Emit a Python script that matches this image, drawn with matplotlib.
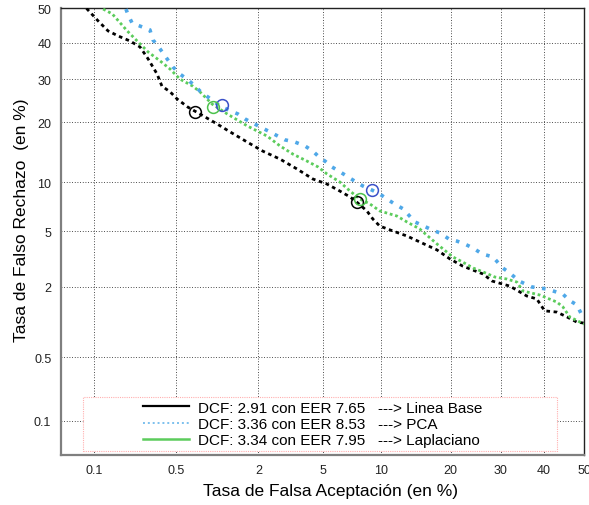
import numpy as np
import matplotlib
matplotlib.use('Agg')
import matplotlib.pyplot as plt
from matplotlib.lines import Line2D
from matplotlib.patches import Rectangle
from statistics import NormalDist

# --- data (percent) ---
base_far = [0.085, 0.109, 0.134, 0.166, 0.209, 0.255, 0.298, 0.354, 0.388, 0.452,
            0.513, 0.624, 0.813, 1.03, 1.28, 1.68, 2.14, 2.76, 3.51, 4.36,
            5.24, 6.18, 7.0, 7.58, 8.54, 9.15, 9.88, 11.4, 13.2, 15.0,
            17.7, 19.9, 22.2, 26.2, 28.1, 32.0, 35.9, 38.3, 40.2, 43.2,
            45.7, 48.2, 50.0]
base_frr = [50.0, 46.3, 43.4, 41.9, 40.5, 38.8, 35.5, 31.4, 28.3, 26.9,
            25.2, 23.3, 21.4, 19.7, 18.1, 16.2, 14.6, 13.3, 11.8, 10.4,
            9.75, 8.88, 8.2, 7.65, 6.75, 6.0, 5.41, 5.02, 4.65, 4.24,
            3.73, 3.22, 2.86, 2.50, 2.21, 2.02, 1.69, 1.60, 1.28, 1.25,
            1.14, 1.03, 1.01]

pca_far = [0.193, 0.20, 0.218, 0.255, 0.309, 0.327, 0.36, 0.395, 0.475, 0.54,
           0.614, 0.71, 0.77, 1.08, 1.28, 1.45, 1.63, 2.05, 2.38, 2.96,
           3.41, 3.92, 4.36, 4.67, 5.11, 5.59, 6.18, 7.42, 8.15, 9.05,
           9.88, 10.7, 11.6, 12.7, 14.3, 15.3, 16.9, 18.2, 19.7, 21.1,
           22.6, 24.2, 26.0, 28.3, 30.4, 32.0, 34.1, 37.1, 40.7, 44.7,
           46.2, 48.2, 49.2, 50.0]
pca_frr = [49.8, 48.4, 45.7, 44.8, 43.7, 40.8, 39.1, 37.1, 33.3, 31.4,
           30.1, 28.3, 27.1, 23.6, 22.5, 21.8, 20.7, 19.1, 18.1, 16.6,
           16.2, 15.5, 14.6, 13.8, 13.0, 12.1, 11.4, 10.1, 9.5, 9.0,
           8.54, 7.97, 7.45, 6.95, 5.75, 5.49, 5.10, 4.87, 4.44, 4.30,
           4.10, 3.85, 3.50, 3.33, 2.77, 2.54, 2.21, 1.99, 1.92, 1.75,
           1.57, 1.43, 1.23, 1.18]

lap_far = [0.121, 0.146, 0.166, 0.198, 0.241, 0.298, 0.375, 0.452, 0.540, 0.68,
           0.77, 0.95, 1.22, 1.68, 2.28, 2.76, 3.32, 4.02, 4.67, 5.24,
           6.18, 7.0, 7.87, 8.84, 9.88, 11.9, 13.2, 15.0, 17.7, 20.4,
           22.2, 24.2, 26.2, 28.7, 31.3, 33.6, 35.0, 39.0, 43.2, 44.7,
           46.4, 49.0, 50.0]
lap_frr = [49.8, 48.4, 46.3, 43.4, 40.5, 37.4, 34.9, 32.7, 30.1, 28.3,
           26.9, 24.0, 21.8, 19.3, 17.3, 15.5, 14.1, 13.0, 12.1, 11.1,
           10.0, 8.88, 7.97, 7.45, 6.75, 6.27, 5.75, 5.18, 4.10, 3.33,
           3.06, 2.77, 2.59, 2.37, 2.29, 2.17, 1.85, 1.72, 1.51, 1.38,
           1.14, 1.03, 0.99]

# min-DCF and EER operating points (FAR, FRR)
dcf_pts = {'base': (0.71, 22.2), 'pca': (1.12, 23.8), 'lap': (0.96, 23.3)}
eer_pts = {'base': (7.58, 7.65), 'pca': (9.05, 9.0), 'lap': (7.87, 7.97)}

labels = ['DCF: 2.91 con EER 7.65   ---> Linea Base',
          'DCF: 3.36 con EER 8.53   ---> PCA',
          'DCF: 3.34 con EER 7.95   ---> Laplaciano']

x_ticks = [0.1, 0.5, 2, 5, 10, 20, 30, 40, 50]
x_ticklabels = ['0.1', '0.5', '2', '5', '10', '20', '30', '40', '50']
y_ticks = [0.117, 0.5, 2, 5, 10, 20, 30, 40, 50]
y_ticklabels = ['0.1', '0.5', '2', '5', '10', '20', '30', '40', '50']

# --- normal deviate (probit) scale ---
_nd = NormalDist()
_ppf = np.vectorize(lambda p: _nd.inv_cdf(min(max(p, 1e-9), 1 - 1e-9)), otypes=[float])
_cdf = np.vectorize(_nd.cdf, otypes=[float])


def to_probit(pct):
    return _ppf(np.asarray(pct, float) / 100.0)


def from_probit(z):
    return _cdf(np.asarray(z, float)) * 100.0


plt.rcParams['font.family'] = ['Liberation Sans', 'DejaVu Sans']

fig = plt.figure(figsize=(5.89, 5.06), dpi=100)
ax = fig.add_axes([61 / 589, 1 - 455.7 / 506, 523 / 589, 446.3 / 506])
ax.set_xscale('function', functions=(to_probit, from_probit))
ax.set_yscale('function', functions=(to_probit, from_probit))

colors = {'base': 'black', 'pca': '#4fa8e8', 'lap': '#5ccc5c'}
circ_colors = {'base': 'black', 'pca': '#3a50c8', 'lap': '#4cc24c'}

ax.plot(base_far, base_frr, color=colors['base'], lw=2.0,
        linestyle=(0, (1.3, 1.3)), zorder=3)
ax.plot(lap_far, lap_frr, color=colors['lap'], lw=2.0,
        linestyle=(0, (1.0, 1.0)), zorder=3)
ax.plot(pca_far, pca_frr, color=colors['pca'], lw=2.6,
        linestyle=(0, (1.0, 2.1)), zorder=3)

for key in ['base', 'pca', 'lap']:
    for pt in (dcf_pts[key], eer_pts[key]):
        ax.plot(pt[0], pt[1], 'o', ms=8.5, mfc='none', mec=circ_colors[key],
                mew=1.1, zorder=4)

ax.set_xlim(0.0485, 50)
ax.set_ylim(0.0494, 50)
ax.set_xticks(x_ticks)
ax.set_xticklabels(x_ticklabels)
ax.set_yticks(y_ticks)
ax.set_yticklabels(y_ticklabels)
ax.minorticks_off()
ax.tick_params(length=0, pad=7, labelsize=9, colors='#222222')

ax.grid(True, color='#111111', lw=0.6, linestyle=(0, (1, 2.2)))

for s in ['left', 'bottom']:
    ax.spines[s].set_color('#7f7f7f')
    ax.spines[s].set_linewidth(1.6)
for s in ['top', 'right']:
    ax.spines[s].set_color('#222222')
    ax.spines[s].set_linewidth(1.0)

ax.set_xlabel('Tasa de Falsa Aceptación (en %)', fontsize=12.5, va='center')
ax.xaxis.set_label_coords(0.516, -0.081)
ax.set_ylabel('Tasa de Falso Rechazo  (en %)', fontsize=12.5, va='center')
ax.yaxis.set_label_coords(-0.0746, 0.528)

# legend box (pink dotted frame)
box = Rectangle((0.042, 0.008), 0.906, 0.121, transform=ax.transAxes,
                facecolor='white', edgecolor='#ffb0b0', lw=0.8,
                linestyle=(0, (1, 1)), zorder=4.5)
ax.add_patch(box)

handles = [Line2D([], [], color='black', lw=1.6),
           Line2D([], [], color='#7cc0ee', lw=1.4, linestyle=(0, (1, 1.5))),
           Line2D([], [], color='#5ccc5c', lw=1.8)]
leg = ax.legend(handles, labels, loc='center', bbox_to_anchor=(0.481, 0.069),
                frameon=False, fontsize=11, handlelength=3.0,
                handletextpad=0.6, labelspacing=0.15, borderpad=0.0)
leg.set_zorder(5)

fig.savefig('out.png', dpi=100, facecolor='white')
